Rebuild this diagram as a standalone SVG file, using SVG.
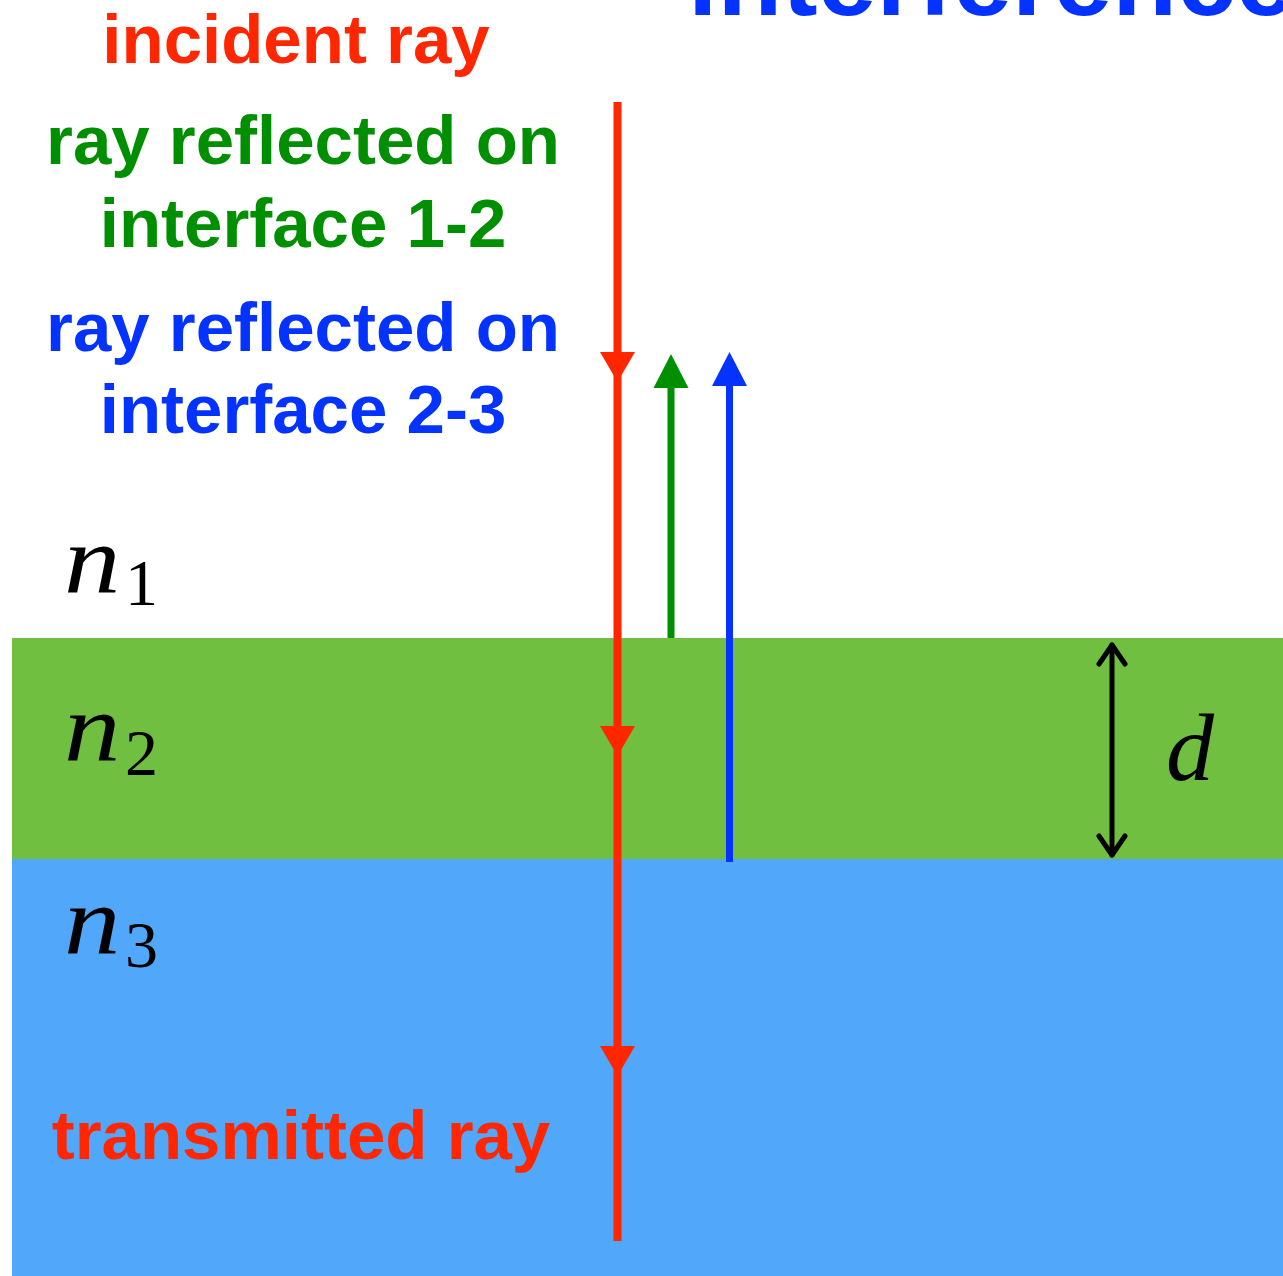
<svg xmlns="http://www.w3.org/2000/svg" xmlns:xlink="http://www.w3.org/1999/xlink" width="1283" height="1276" viewBox="0 0 1283 1276">
<style>
.lbl{font-family:"Liberation Sans",Arial,Helvetica,sans-serif;font-weight:bold;font-size:69px;text-anchor:middle}
.red{fill:#FF2600}.grn{fill:#008F00}.blu{fill:#0433FF}
.math{font-family:"Liberation Serif","Times New Roman",serif;font-style:italic;fill:#000}
.sub{font-family:"Liberation Serif","Times New Roman",serif;fill:#000;font-size:66px}
</style>
<defs>
<polygon id="down" points="-17.5,0 17.5,0 0,30"/>
<polygon id="up" points="-17.5,0 17.5,0 0,-34"/>
</defs>
<rect width="1283" height="1276" fill="#fff"/>
<g id="layer2"><rect x="12" y="638" width="1271" height="221" fill="#70BF41"/></g>
<g id="layer3"><rect x="12" y="859" width="1271" height="417" fill="#51A7F9"/></g>
<g id="title"><text x="688" y="15" font-family="Liberation Sans,Arial,sans-serif" font-weight="bold" font-size="106" fill="#0433FF">interference</text></g>
<g id="incident-label"><text class="lbl red" x="296" y="63">incident ray</text></g>
<g id="refl12-label"><text class="lbl grn" x="303" y="164">ray reflected on</text><text class="lbl grn" x="303" y="247">interface 1-2</text></g>
<g id="refl23-label"><text class="lbl blu" x="303" y="351">ray reflected on</text><text class="lbl blu" x="303" y="433">interface 2-3</text></g>
<g id="transmitted-label"><text class="lbl red" x="301" y="1159">transmitted ray</text></g>
<g id="n1"><text class="math" transform="translate(64,592) scale(1.15,1)" font-size="98">n</text><text class="sub" x="125" y="605">1</text></g>
<g id="n2"><text class="math" transform="translate(64,760) scale(1.15,1)" font-size="98">n</text><text class="sub" x="125" y="775">2</text></g>
<g id="n3"><text class="math" transform="translate(64,953) scale(1.15,1)" font-size="98">n</text><text class="sub" x="125" y="967">3</text></g>
<g id="d-label"><text class="math" x="1166" y="780" font-size="96">d</text></g>
<g id="connectors">
<line x1="617.5" y1="102" x2="617.5" y2="1241" stroke="#FF2600" stroke-width="8"/>
<use xlink:href="#down" x="617.5" y="352" fill="#FF2600"/>
<use xlink:href="#down" x="617.5" y="726" fill="#FF2600"/>
<use xlink:href="#down" x="617.5" y="1046" fill="#FF2600"/>
<line x1="671" y1="385" x2="671" y2="638" stroke="#008F00" stroke-width="7"/>
<use xlink:href="#up" x="671" y="388" fill="#008F00"/>
<line x1="729.5" y1="383" x2="729.5" y2="862" stroke="#0433FF" stroke-width="7"/>
<use xlink:href="#up" x="729.5" y="386" fill="#0433FF"/>
<g fill="none" stroke="#000" stroke-width="5" stroke-linecap="round" stroke-linejoin="round">
<line x1="1112" y1="645" x2="1112" y2="855"/>
<polyline points="1099,664 1112,645 1125,664"/>
<polyline points="1099,836 1112,855 1125,836"/>
</g>
</g>
</svg>
